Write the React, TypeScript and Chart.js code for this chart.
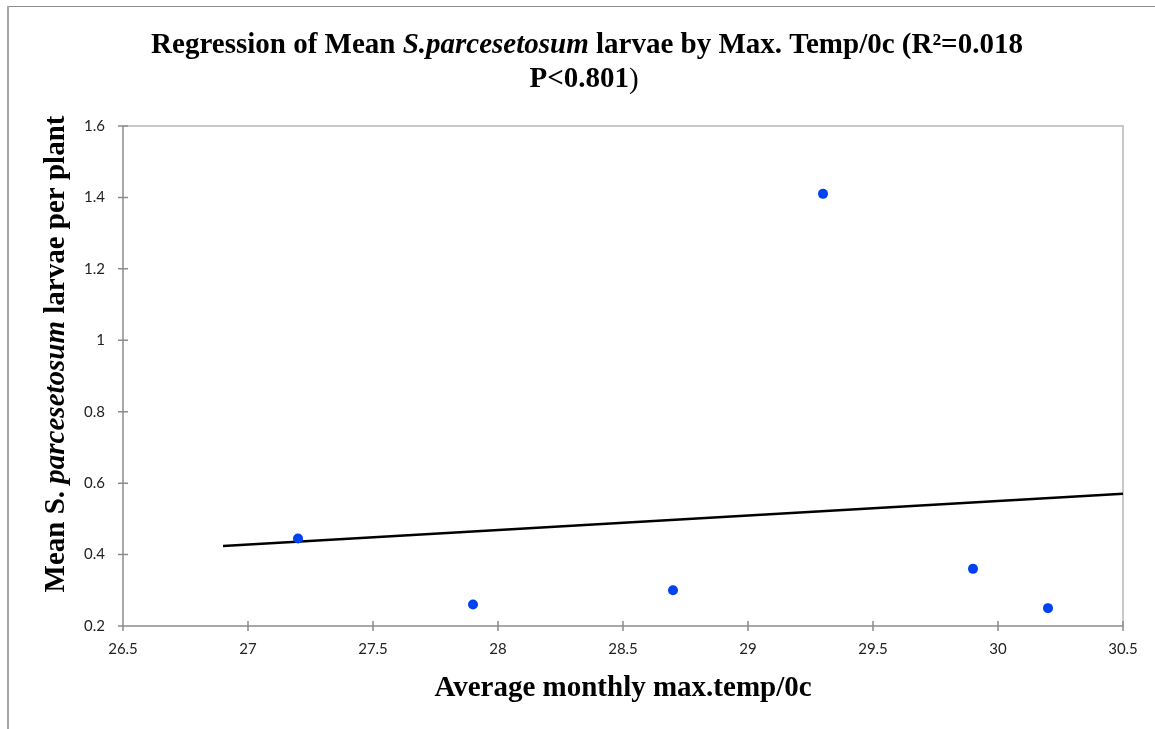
import { useEffect, useRef } from "react";
import { Chart, registerables } from "chart.js";

Chart.register(...registerables);

// Monthly mean max temperature (°C) and mean larvae per plant
const temps = [27.2, 27.9, 28.7, 29.3, 29.9, 30.2];
const larvae = [0.445, 0.26, 0.3, 1.41, 0.36, 0.25];

// Linear trend line end points
const trendTemps = [26.9, 30.5];
const trendLarvae = [0.424, 0.57];

// Axis tick values
const xTicks = [26.5, 27, 27.5, 28, 28.5, 29, 29.5, 30, 30.5];
const yTicks = [0.2, 0.4, 0.6, 0.8, 1, 1.2, 1.4, 1.6];

const W = 1155;
const H = 729;
const SERIF = "'Liberation Serif', 'Times New Roman', serif";

type Run = { t: string; i?: boolean; b?: boolean };

const titleLine1: Run[] = [
  { t: "Regression of Mean " },
  { t: "S.parcesetosum", i: true },
  { t: " larvae by Max. Temp/0c (R²=0.018" },
];
const titleLine2: Run[] = [{ t: "P<0.801" }, { t: ")", b: false }];
const yTitle: Run[] = [
  { t: "Mean S. " },
  { t: "parcesetosum", i: true },
  { t: " larvae per plant" },
];
const xTitle: Run[] = [{ t: "Average monthly max.temp/0c" }];

function fontFor(r: Run, size: number) {
  return `${r.i ? "italic " : ""}${r.b === false ? "" : "bold "}${size}px ${SERIF}`;
}

// Draws a row of mixed-style text runs centred on (cx, cy)
function drawRuns(ctx: CanvasRenderingContext2D, runs: Run[], size: number, cx: number, cy: number) {
  let total = 0;
  const widths = runs.map((r) => {
    ctx.font = fontFor(r, size);
    const w = ctx.measureText(r.t).width;
    total += w;
    return w;
  });
  let x = cx - total / 2;
  ctx.textAlign = "left";
  ctx.textBaseline = "middle";
  ctx.fillStyle = "#000";
  runs.forEach((r, k) => {
    ctx.font = fontFor(r, size);
    ctx.fillText(r.t, x, cy);
    x += widths[k];
  });
}

const framePlugin = {
  id: "frame",
  beforeDatasetsDraw(chart: any) {
    const { ctx, chartArea: a, scales } = chart;
    ctx.save();
    // outer chart frame
    ctx.strokeStyle = "#8c8c8c";
    ctx.lineWidth = 1;
    ctx.beginPath();
    ctx.moveTo(7, 6.5);
    ctx.lineTo(W, 6.5);
    ctx.stroke();
    ctx.strokeStyle = "#a6a6a6";
    ctx.lineWidth = 2;
    ctx.beginPath();
    ctx.moveTo(8, 6);
    ctx.lineTo(8, H);
    ctx.stroke();

    // plot area top and right edges
    ctx.strokeStyle = "#c9c9c9";
    ctx.lineWidth = 2;
    ctx.beginPath();
    ctx.moveTo(a.left, a.top);
    ctx.lineTo(a.right, a.top);
    ctx.lineTo(a.right, a.bottom);
    ctx.stroke();

    // axis lines with crossing tick marks
    ctx.strokeStyle = "#8c8c8c";
    ctx.lineWidth = 1.5;
    ctx.beginPath();
    ctx.moveTo(a.left, a.top);
    ctx.lineTo(a.left, a.bottom);
    ctx.lineTo(a.right, a.bottom);
    xTicks.forEach((v) => {
      const px = scales.x.getPixelForValue(v);
      ctx.moveTo(px, a.bottom - 5);
      ctx.lineTo(px, a.bottom + 5);
    });
    yTicks.forEach((v) => {
      const py = scales.y.getPixelForValue(v);
      ctx.moveTo(a.left - 5, py);
      ctx.lineTo(a.left + 5, py);
    });
    ctx.stroke();
    ctx.restore();
  },
  afterDraw(chart: any) {
    const { ctx, chartArea: a } = chart;
    ctx.save();
    drawRuns(ctx, titleLine1, 29, 587, 46);
    drawRuns(ctx, titleLine2, 29, 584, 80);
    drawRuns(ctx, xTitle, 29, (a.left + a.right) / 2, 689);
    ctx.translate(57, 354);
    ctx.rotate(-Math.PI / 2);
    drawRuns(ctx, yTitle, 29, 0, 0);
    ctx.restore();
  },
};

export default function App() {
  const ref = useRef<HTMLCanvasElement | null>(null);

  useEffect(() => {
    if (!ref.current) return;
    const tickFont = { family: "Lato, 'Noto Sans', sans-serif", size: 15 };
    const chart = new Chart(ref.current, {
      type: "scatter",
      data: {
        datasets: [
          {
            label: "Mean larvae",
            data: temps.map((t, k) => ({ x: t, y: larvae[k] })),
            backgroundColor: "#0041f0",
            borderColor: "#0041f0",
            pointRadius: 5,
            pointBorderWidth: 0,
            order: 0,
          },
          {
            label: "Linear trend",
            data: trendTemps.map((t, k) => ({ x: t, y: trendLarvae[k] })),
            showLine: true,
            borderColor: "#000",
            borderWidth: 2.5,
            pointRadius: 0,
            order: 1,
          } as any,
        ],
      },
      options: {
        responsive: false,
        animation: false,
        layout: { padding: { top: 126, right: 32, left: 0, bottom: 0 } },
        plugins: {
          legend: { display: false },
          tooltip: { enabled: false },
          title: { display: false },
        },
        scales: {
          x: {
            type: "linear",
            min: 26.5,
            max: 30.5,
            afterBuildTicks: (s: any) => {
              s.ticks = xTicks.map((v) => ({ value: v }));
            },
            afterFit: (s: any) => {
              s.height = 103;
            },
            ticks: {
              font: tickFont,
              color: "#222",
              padding: 14,
              maxRotation: 0,
              callback: (v: any) => String(v),
            },
            grid: { display: false, drawTicks: false },
            border: { display: false },
          },
          y: {
            type: "linear",
            min: 0.2,
            max: 1.6,
            afterBuildTicks: (s: any) => {
              s.ticks = yTicks.map((v) => ({ value: v }));
            },
            afterFit: (s: any) => {
              s.width = 123;
            },
            ticks: {
              font: tickFont,
              color: "#222",
              padding: 18,
              callback: (v: any) => String(Math.round(v * 10) / 10),
            },
            grid: { display: false, drawTicks: false },
            border: { display: false },
          },
        },
      },
      plugins: [framePlugin],
    });
    return () => chart.destroy();
  }, []);

  return (
    <div style={{ position: "absolute", left: 0, top: 0, width: W, height: H, background: "#fff" }}>
      <canvas ref={ref} width={W} height={H} style={{ display: "block" }} />
    </div>
  );
}
